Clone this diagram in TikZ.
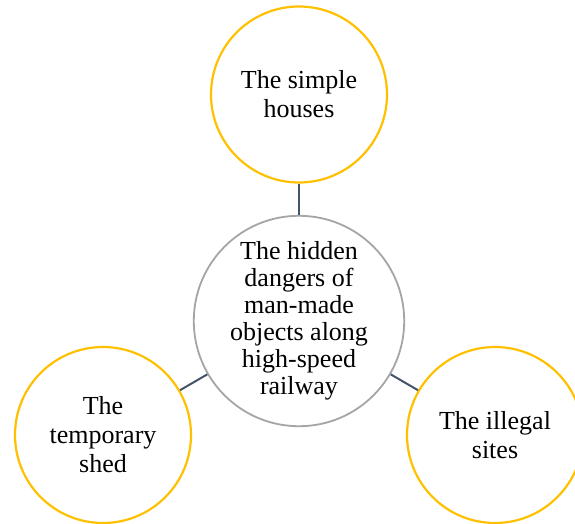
\documentclass[tikz,border=0pt]{standalone}
\usepackage{fontspec}
\setmainfont{Liberation Serif}
\definecolor{gold}{HTML}{FFC000}
\definecolor{hubgray}{HTML}{A5A5A5}
\definecolor{slate}{HTML}{44546A}
\begin{document}
\begin{tikzpicture}[x=1pt,y=-1pt,
    leaf/.style={circle,draw=gold,line width=2.2pt,fill=white,minimum size=176pt,
      inner sep=0pt,align=center,text=black,font=\fontsize{26}{29}\selectfont},
    hub/.style={circle,draw=hubgray,line width=1.8pt,fill=white,minimum size=207pt,
      inner sep=0pt,align=center,text=black,font=\fontsize{26}{27}\selectfont},
    link/.style={draw=slate,line width=2pt}]
  \useasboundingbox (0,0) rectangle (575,524);
  % the hub
  \node[hub] (hub) at (299,321) {The hidden\\dangers of\\man-made\\objects along\\high-speed\\railway};
  % the three leaves
  \node[leaf] (houses) at (299,94.5) {The simple\\houses};
  \node[leaf] (shed) at (103,435) {The\\temporary\\shed};
  \node[leaf] (sites) at (495,435) {The illegal\\sites};
  % links
  \draw[link] (houses) -- (hub);
  \draw[link] (shed) -- (hub);
  \draw[link] (sites) -- (hub);
\end{tikzpicture}
\end{document}
